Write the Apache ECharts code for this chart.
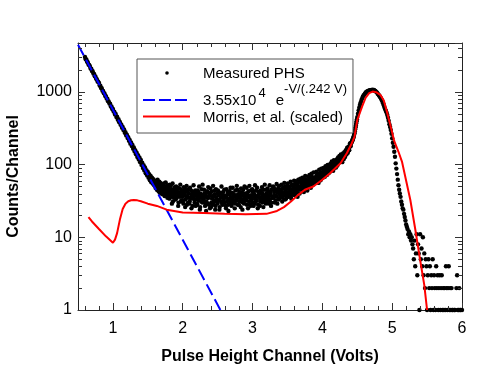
<!DOCTYPE html>
<html>
<head>
<meta charset="utf-8">
<script src="https://cdn.jsdelivr.net/npm/echarts@6/dist/echarts.min.js"></script>
<style>
  html, body { margin: 0; padding: 0; background: #fff; }
  #chart { width: 485px; height: 370px; }
</style>
</head>
<body>
<div id="chart"></div>
<script>
  // measured pulse height spectrum: one count per 0.01 V channel, starting at 0.60 V
  const phsStart = 0.60
  const phsStep = 0.01
  const phsCounts = [
    3010, 2810, 2790, 2600, 2550, 2380, 2350, 2260, 2100, 2080, // 0.60
    1940, 1920, 1790, 1770, 1640, 1630, 1510, 1490, 1390, 1380, // 0.70
    1330, 1225, 1215, 1130, 1120, 1040, 1030, 955, 950, 880,    // 0.80
    875, 810, 805, 745, 740, 690, 685, 630, 630, 580,           // 0.90
    580, 535, 535, 490, 495, 452, 455, 415, 420, 383,           // 1.00
    386, 352, 356, 322, 328, 298, 303, 274, 279, 252,           // 1.10
    257, 232, 238, 212, 219, 194, 202, 180, 186, 165,           // 1.20
    172, 151, 158, 139, 146, 127, 135, 117, 125, 108,           // 1.30
    116, 99, 106, 90, 98, 83, 91, 76, 84, 71,                   // 1.40
    79, 66, 74, 61, 70, 57, 66, 55, 63, 52,                     // 1.50
    60, 48, 57, 45, 62, 44, 53, 41, 56, 43,                     // 1.60
    52, 39, 48, 55, 37, 46, 41, 50, 35, 44,                     // 1.70
    47, 34, 42, 51, 36, 40, 31, 45, 38, 49,                     // 1.80
    33, 44, 37, 48, 30, 41, 36, 46, 32, 39,                     // 1.90
    43, 29, 38, 47, 33, 36, 28, 42, 35, 40,                     // 2.00
    31, 45, 34, 38, 27, 41, 36, 30, 44, 33,                     // 2.10
    37, 28, 42, 32, 39, 26, 35, 46, 30, 38,                     // 2.20
    33, 40, 27, 36, 31, 43, 29, 35, 38, 25,                     // 2.30
    41, 30, 34, 28, 37, 32, 44, 27, 35, 31,                     // 2.40
    29, 38, 33, 26, 40, 31, 36, 28, 42, 34,                     // 2.50
    30, 37, 25, 35, 39, 28, 33, 43, 31, 36,                     // 2.60
    27, 34, 40, 30, 36, 29, 38, 32, 45, 28,                     // 2.70
    35, 31, 39, 26, 33, 41, 30, 37, 29, 34,                     // 2.80
    40, 32, 28, 36, 43, 31, 35, 27, 38, 33,                     // 2.90
    30, 41, 36, 29, 34, 44, 32, 37, 28, 39,                     // 3.00
    35, 31, 42, 36, 30, 38, 45, 33, 37, 29,                     // 3.10
    40, 34, 31, 43, 37, 33, 39, 30, 46, 36,                     // 3.20
    35, 42, 38, 32, 44, 36, 41, 48, 34, 39,                     // 3.30
    45, 37, 42, 35, 49, 40, 38, 44, 34, 47,                     // 3.40
    41, 50, 39, 46, 43, 37, 52, 45, 40, 48,                     // 3.50
    44, 53, 47, 41, 55, 49, 45, 58, 46, 51,                     // 3.60
    56, 48, 60, 52, 47, 63, 54, 50, 58, 53,                     // 3.70
    61, 55, 66, 57, 52, 68, 60, 56, 64, 59,                     // 3.80
    67, 62, 72, 60, 70, 75, 64, 69, 78, 66,                     // 3.90
    72, 80, 70, 77, 85, 74, 82, 79, 88, 76,                     // 4.00
    84, 92, 88, 97, 86, 95, 101, 90, 98, 104,                   // 4.10
    100, 109, 104, 114, 108, 118, 112, 122, 117, 128,           // 4.20
    125, 136, 132, 145, 141, 153, 150, 162, 168, 180,           // 4.30
    185, 195, 205, 216, 228, 245, 270, 305, 345, 395,           // 4.40
    450, 500, 560, 615, 670, 720, 770, 815, 855, 890,           // 4.50
    915, 945, 980, 990, 1015, 1020, 1040, 1035, 1055, 1050,     // 4.60
    1065, 1058, 1070, 1050, 1060, 1035, 1030, 1000, 985, 950,   // 4.70
    925, 900, 870, 840, 810, 775, 740, 700, 655, 610,           // 4.80
    575, 545, 515, 480, 440, 400, 360, 330, 300, 265,           // 4.90
    230, 200, 176, 150, 128, 104, 88, 74, 62, 52,               // 5.00
    45, 40, 36, 31, 28, 25, 24, 21, 19, 17,                     // 5.10
    15, 14, 13, 11, 12, 10, 11, 9, 10, 8,                       // 5.20
    7, 5, 9, 4, 6, 11, 3, 8, 6, 1,                              // 5.30
    11, 5, 7, 4, 10, 3, 6, 2, 5, 4,                             // 5.40
    1, 3, 5, 2, 4, 1, 3, 2, 5, 1,                               // 5.50
    3, 2, 1, 4, 2, 3, 1, 2, 3, 1,                               // 5.60
    2, 3, 1, 2, 1, 2, 1, 4, 2, 1,                               // 5.70
    2, 4, 1, 2, 1, 2, 1, 1, 0, 1,                               // 5.80
    1, 0, 2, 3, 1, 1, 2, 1, 1, 0,                               // 5.90
    1                                                           // 6.00
  ]

  // the in-between channels of the flat part, 1.605 V to 4.495 V
  const phsMidStart = 1.605
  const phsMidCounts = [
    58, 52, 47, 55, 49, 43, 58, 46, 51, 40,            // 1.605
    49, 44, 53, 40, 47, 57, 42, 38, 52, 45,            // 1.705
    40, 53, 37, 46, 29, 55, 43, 35, 48, 41,            // 1.805
    50, 35, 42, 27, 47, 38, 53, 31, 43, 36,            // 1.905
    32, 49, 40, 26, 44, 51, 37, 30, 46, 29,            // 2.005
    48, 35, 25, 43, 39, 52, 33, 41, 27, 38,            // 2.105
    29, 44, 35, 50, 24, 40, 31, 37, 53, 34,            // 2.205
    45, 30, 38, 23, 42, 35, 49, 28, 39, 47,            // 2.305
    26, 43, 36, 51, 30, 39, 24, 46, 33, 40,            // 2.405
    44, 32, 24, 41, 35, 50, 29, 38, 31, 45,            // 2.505
    36, 27, 46, 31, 42, 23, 39, 34, 48, 29,            // 2.605
    41, 48, 31, 37, 25, 44, 33, 51, 36, 39,            // 2.705
    28, 42, 35, 47, 38, 24, 45, 32, 50, 37,            // 2.805
    33, 48, 40, 25, 37, 51, 28, 44, 34, 46,            // 2.905
    43, 27, 39, 52, 31, 36, 48, 25, 42, 35,            // 3.005
    27, 44, 33, 49, 40, 26, 37, 53, 31, 45,            // 3.105
    33, 47, 38, 29, 52, 41, 27, 45, 35, 50,            // 3.205
    48, 30, 45, 37, 54, 29, 43, 33, 51, 40,            // 3.305
    36, 53, 31, 47, 40, 56, 33, 50, 42, 38,            // 3.405
    55, 36, 49, 42, 58, 34, 46, 53, 39, 60,            // 3.505
    38, 59, 43, 52, 36, 62, 47, 40, 64, 49,            // 3.605
    45, 66, 52, 42, 58, 70, 47, 61, 44, 68,            // 3.705
    51, 72, 58, 48, 75, 62, 53, 78, 57, 66,            // 3.805
    58, 80, 63, 74, 56, 85, 70, 61, 88, 73,            // 3.905
    66, 90, 75, 68, 95, 80, 72, 99, 84, 92,            // 4.005
    79, 103, 85, 110, 93, 82, 115, 96, 108, 91,        // 4.105
    118, 97, 125, 106, 131, 112, 138, 120, 108, 142,   // 4.205
    118, 148, 127, 158, 138, 170, 145, 176, 158, 195,  // 4.305
    178, 200, 210, 222, 236, 258, 288, 325, 370, 420   // 4.405
  ]

  // exponential fit 3.55e4 * exp(-V / 0.242 V), straight on the log axis
  const fitVolts = [0.5, 2.54]
  const fitCounts = [4450, 1]

  // Morris et al. curve (scaled)
  const morrisVolts = [0.65, 0.70, 0.80, 0.90, 1.00, 1.03, 1.06, 1.10, 1.14, 1.18, 1.22, 1.26, 1.30, 1.35, 1.40, 1.50, 1.63, 1.77,
    2.00, 2.30, 2.60, 2.90, 3.20, 3.35, 3.45, 3.55, 3.65, 3.75, 3.87, 3.99, 4.11, 4.26, 4.35, 4.42, 4.46, 4.50,
    4.57, 4.62, 4.67, 4.72, 4.77, 4.83, 4.88, 4.93, 4.98, 5.03, 5.09, 5.14, 5.20, 5.26, 5.33, 5.40, 5.46, 5.50]
  const morrisCounts = [19, 16.5, 13, 10.3, 8.4, 9.3, 11.4, 17.5, 24.5, 29, 31.3, 32.3, 32.6, 32.2, 31.3, 29, 27, 24,
    22, 21.5, 21, 20.8, 21, 23, 26, 31, 38, 45, 50, 61, 76, 104, 143, 195, 240, 410,
    630, 830, 960, 1010, 990, 910, 760, 510, 330, 210, 150, 110, 60, 32.6, 13, 4.9, 2.2, 1]

  const xMin = 0.5
  const xMax = 6
  const yMin = 1
  const yMax = 4700
  const yLabels = [1, 10, 100, 1000]

  const fitName = '3.55x10^4 e^-V/(.242 V)'
  const phsName = 'Measured PHS'
  const morrisName = 'Morris, et al. (scaled)'
  const font = 'Liberation Sans'

  // legend icons drawn in a 48x14 box
  const dotIcon = 'path://M0,0M48,14M22.2,7a1.8,1.8 0 1 0 3.6,0a1.8,1.8 0 1 0 -3.6,0z'
  const dashIcon = 'path://M0,0M48,14M0,6h12v2h-12zM16,6h12v2h-12zM32,6h12v2h-12z'
  const solidIcon = 'path://M0,0M48,14M0,6h47v2h-47z'

  // minor tick positions for the boxed axes
  const xMinor = []
  for (let i = 3; i < 30; i++) {
    if (i % 5 !== 0) xMinor.push(i / 5)
  }
  const yMinor = []
  for (let k = 0; k < 4; k++) {
    for (let m = 2; m < 10; m++) {
      const v = m * Math.pow(10, k)
      if (v < yMax) yMinor.push(v)
    }
  }
  const minorData = xMinor.map(v => [v, yMin, 0]).concat(yMinor.map(v => [xMin, v, 1]))

  const phsData = []
  phsCounts.forEach((c, i) => {
    if (c > 0) phsData.push([+(phsStart + i * phsStep).toFixed(3), c])
  })
  phsMidCounts.forEach((c, i) => {
    if (c > 0) phsData.push([+(phsMidStart + i * phsStep).toFixed(3), c])
  })

  function renderMinor (params, api) {
    const cs = params.coordSys
    const p = api.coord([api.value(0), api.value(1)])
    const style = { stroke: '#333', lineWidth: 1 }
    if (api.value(2) === 0) {
      const x = Math.round(p[0]) + 0.5
      const b = cs.y + cs.height
      return {
        type: 'group',
        children: [
          { type: 'line', shape: { x1: x, y1: b, x2: x, y2: b - 4 }, style: style },
          { type: 'line', shape: { x1: x, y1: cs.y, x2: x, y2: cs.y + 4 }, style: style }
        ]
      }
    }
    const y = Math.round(p[1]) + 0.5
    const r = cs.x + cs.width
    return {
      type: 'group',
      children: [
        { type: 'line', shape: { x1: cs.x, y1: y, x2: cs.x + 4, y2: y }, style: style },
        { type: 'line', shape: { x1: r, y1: y, x2: r - 4, y2: y }, style: style }
      ]
    }
  }

  const axisLine = { show: true, lineStyle: { color: '#222', width: 1 } }
  const axisTick = { show: true, inside: true, length: 7, lineStyle: { color: '#333', width: 1 } }

  const chart = echarts.init(document.getElementById('chart'))
  chart.setOption({
    animation: false,
    textStyle: { fontFamily: font },
    grid: { left: 78, right: 23, top: 43, bottom: 60, containLabel: false, outerBoundsMode: 'none' },
    legend: {
      orient: 'vertical',
      left: 137,
      top: 59,
      padding: [7, 6, 8, 6],
      itemGap: 1,
      itemWidth: 48,
      itemHeight: 14,
      backgroundColor: '#fff',
      borderColor: '#555',
      borderWidth: 1,
      borderRadius: 0,
      selectedMode: false,
      data: [
        { name: phsName, icon: dotIcon, itemStyle: { color: '#000', opacity: 1 } },
        { name: fitName, icon: dashIcon, itemStyle: { color: '#0000ff' } },
        { name: morrisName, icon: solidIcon, itemStyle: { color: '#ff0000' } }
      ],
      formatter: function (name) {
        if (name === fitName) return '{b|3.55x10}{s1|4}{b| e}{s2|-V/(.242 V)}'
        return '{b|' + name + '}'
      },
      textStyle: {
        fontFamily: font,
        fontSize: 15,
        color: '#000',
        padding: [0, 0, 0, 7],
        rich: {
          b: { fontFamily: font, fontSize: 15, lineHeight: 17, color: '#000', verticalAlign: 'bottom' },
          s1: { fontFamily: font, fontSize: 13, lineHeight: 13, color: '#000', verticalAlign: 'bottom', padding: [0, 6, 9, 2] },
          s2: { fontFamily: font, fontSize: 13, lineHeight: 13, color: '#000', verticalAlign: 'bottom', padding: [0, 0, 13, 0] }
        }
      }
    },
    xAxis: [
      {
        type: 'value',
        min: xMin,
        max: xMax,
        name: 'Pulse Height Channel (Volts)',
        nameLocation: 'middle',
        nameGap: 39,
        nameTextStyle: { fontFamily: font, fontSize: 16, fontWeight: 'bold', color: '#000' },
        axisLine: axisLine,
        axisTick: axisTick,
        splitLine: { show: false },
        axisLabel: { fontFamily: font, fontSize: 16, color: '#000', margin: 11, showMinLabel: false }
      },
      {
        type: 'value',
        position: 'top',
        min: xMin,
        max: xMax,
        axisLine: axisLine,
        axisTick: axisTick,
        splitLine: { show: false },
        axisLabel: { show: false }
      }
    ],
    yAxis: [
      {
        type: 'log',
        logBase: 10,
        min: yMin,
        max: yMax,
        name: 'Counts/Channel',
        nameLocation: 'middle',
        nameGap: 56,
        nameTextStyle: { fontFamily: font, fontSize: 16, fontWeight: 'bold', color: '#000' },
        axisLine: axisLine,
        axisTick: axisTick,
        splitLine: { show: false },
        axisLabel: {
          fontFamily: font,
          fontSize: 16,
          color: '#000',
          margin: 6,
          showMaxLabel: false,
          formatter: function (v) {
            return yLabels.indexOf(Math.round(v)) >= 0 ? String(Math.round(v)) : ''
          }
        }
      },
      {
        type: 'log',
        logBase: 10,
        position: 'right',
        min: yMin,
        max: yMax,
        axisLine: axisLine,
        axisTick: axisTick,
        splitLine: { show: false },
        axisLabel: { show: false }
      }
    ],
    series: [
      {
        name: phsName,
        type: 'scatter',
        data: phsData,
        symbol: 'circle',
        symbolSize: 4.4,
        itemStyle: { color: '#000', opacity: 1 },
        z: 2
      },
      {
        name: fitName,
        type: 'line',
        data: fitVolts.map((v, i) => [v, fitCounts[i]]),
        symbol: 'none',
        lineStyle: { color: '#0000ff', width: 2, type: [12, 5] },
        itemStyle: { color: '#0000ff' },
        z: 3
      },
      {
        name: morrisName,
        type: 'line',
        data: morrisVolts.map((v, i) => [v, morrisCounts[i]]),
        symbol: 'none',
        lineStyle: { color: '#ff0000', width: 2 },
        itemStyle: { color: '#ff0000' },
        z: 4
      },
      {
        type: 'custom',
        data: minorData,
        encode: { x: 0, y: 1 },
        renderItem: renderMinor,
        silent: true,
        clip: false,
        z: 5
      }
    ]
  })
</script>
</body>
</html>
